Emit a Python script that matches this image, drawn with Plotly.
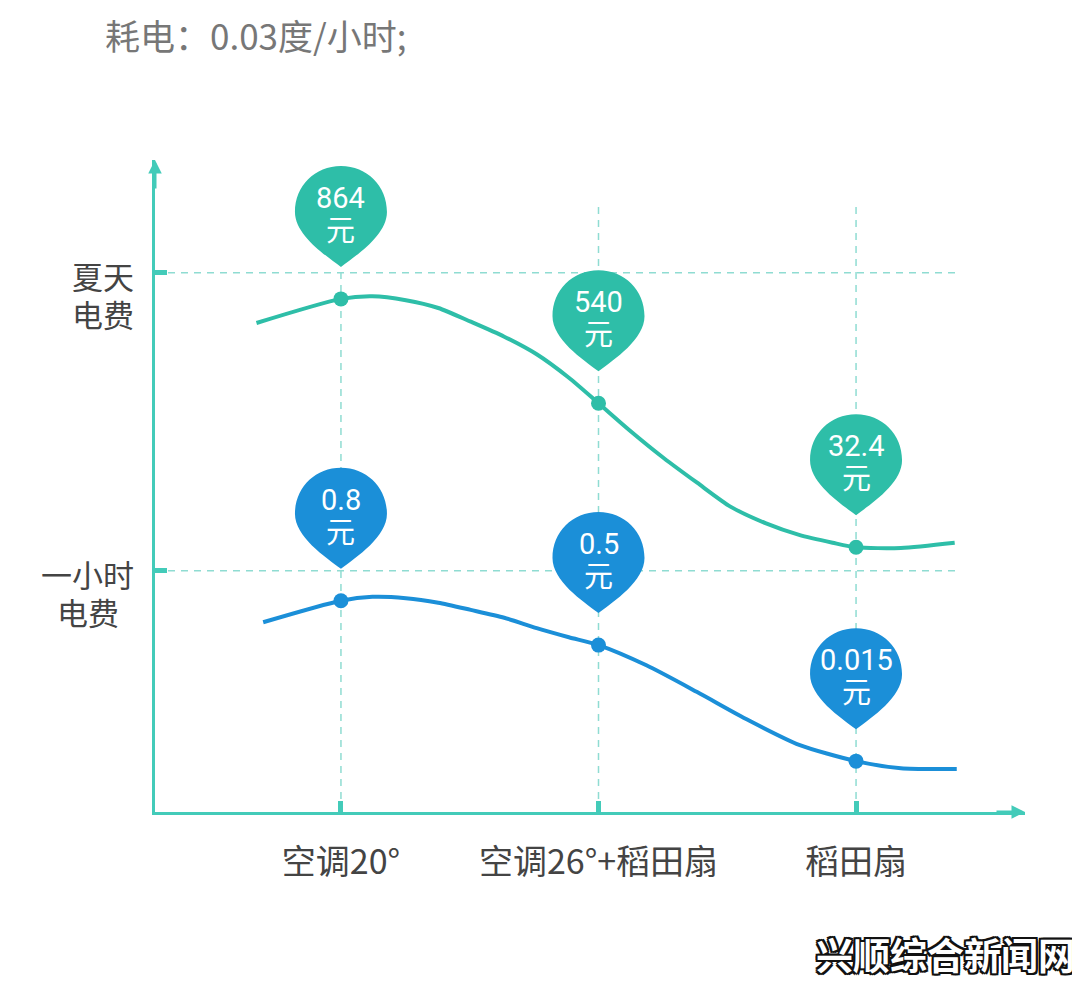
import plotly.graph_objects as go

# ---------------- data ----------------
categories = ["空调20°", "空调26°+稻田扇", "稻田扇"]
summer_cost = [864, 540, 32.4]          # 夏天电费 (元)
hourly_cost = [0.8, 0.5, 0.015]         # 一小时电费 (元)
unit = "元"

# vertical level of each point on the chart (0-100 scale of the drawing)
summer_level = [78.7, 62.7, 40.6]
hourly_level = [32.4, 25.6, 7.8]

# smooth curve samples (x in category units, y in drawing level)
green_curve_x = [-0.328, 0.0, 0.122, 0.252, 0.378, 0.504, 0.634, 0.760, 0.885,
                 1.0, 1.119, 1.253, 1.383, 1.514, 1.648, 1.779, 1.909, 2.0, 2.174, 2.383]
green_curve_y = [75.0, 78.7, 79.1, 78.5, 77.3, 75.2, 72.9, 70.2, 66.6,
                 62.7, 58.6, 54.3, 50.5, 46.8, 44.3, 42.5, 41.3, 40.6, 40.5, 41.3]

blue_curve_x = [-0.302, 0.0, 0.122, 0.252, 0.378, 0.504, 0.634, 0.760, 0.885,
                1.0, 1.186, 1.383, 1.581, 1.779, 2.0, 2.174, 2.391]
blue_curve_y = [29.1, 32.4, 33.0, 32.8, 32.1, 31.0, 29.8, 28.2, 26.8,
                25.6, 22.5, 18.4, 14.1, 10.3, 7.8, 6.7, 6.6]

ytick_vals = [37.0, 82.7]
ytick_lines = [["一小时", "电费"], ["夏天", "电费"]]

title_text = "耗电：0.03度/小时;"
watermark = "兴顺综合新闻网"

# ---------------- styles ----------------
GREEN = "#2ebea8"
BLUE = "#1b8fd8"
AXIS = "#43cbb9"
GRID = "#8fdcd2"
FONT = "Noto Sans CJK SC"
TIGHT_FONT = "Roboto, Noto Sans CJK SC"
W, H = 1072, 979   # page body has an 8px margin

fig = go.Figure()

fig.add_trace(go.Scatter(x=green_curve_x, y=green_curve_y, mode="lines",
                         line=dict(color=GREEN, width=4, shape="spline", smoothing=0.7),
                         hoverinfo="skip", showlegend=False))
fig.add_trace(go.Scatter(x=blue_curve_x, y=blue_curve_y, mode="lines",
                         line=dict(color=BLUE, width=4, shape="spline", smoothing=0.7),
                         hoverinfo="skip", showlegend=False))
xs = list(range(len(categories)))
fig.add_trace(go.Scatter(x=xs, y=summer_level, mode="markers",
                         marker=dict(color=GREEN, size=15), showlegend=False,
                         customdata=summer_cost, hovertemplate="%{customdata}元<extra></extra>"))
fig.add_trace(go.Scatter(x=xs, y=hourly_level, mode="markers",
                         marker=dict(color=BLUE, size=15), showlegend=False,
                         customdata=hourly_cost, hovertemplate="%{customdata}元<extra></extra>"))

shapes = []
# horizontal dashed guides
for yv in ytick_vals:
    shapes.append(dict(type="line", xref="paper", yref="y", x0=0, x1=0.92, y0=yv, y1=yv,
                       line=dict(color=GRID, width=1.5, dash="7px,6px"), layer="below"))
# vertical dashed guides
for xv in xs:
    shapes.append(dict(type="line", xref="x", yref="paper", x0=xv, x1=xv, y0=0, y1=0.931,
                       line=dict(color=GRID, width=1.5, dash="7px,6px"), layer="below"))

# teardrop pins (pixel-sized, anchored at each point)
T = 32
def pin_path():
    return (f"M 0,{T} C 16,{T+12} 46,{T+32} 46,{T+55} "
            f"C 46,{T+81} 26,{T+101} 0,{T+101} "
            f"C -26,{T+101} -46,{T+81} -46,{T+55} "
            f"C -46,{T+32} -16,{T+12} 0,{T} Z")

annotations = []
for levels, values, color in ((summer_level, summer_cost, GREEN), (hourly_level, hourly_cost, BLUE)):
    for xv, lv, val in zip(xs, levels, values):
        shapes.append(dict(type="path", xref="x", yref="y", xsizemode="pixel", ysizemode="pixel",
                           xanchor=xv, yanchor=lv, path=pin_path(),
                           fillcolor=color, line=dict(width=0), layer="above"))
        annotations.append(dict(x=xv, y=lv, xref="x", yref="y", text=f"{val:g}",
                                showarrow=False, yshift=T + 69, xanchor="center", yanchor="middle",
                                borderpad=0,
                                font=dict(family=TIGHT_FONT, size=29, color="white")))
        annotations.append(dict(x=xv, y=lv, xref="x", yref="y", text=unit,
                                showarrow=False, yshift=T + 36, xanchor="center", yanchor="middle",
                                borderpad=0,
                                font=dict(family=TIGHT_FONT, size=29, color="white")))

# y labels (two centred lines, right-aligned block)
for yv, lines in zip(ytick_vals, ytick_lines):
    widest = max(len(l) for l in lines)
    xc = (134 - 155) / 870 - (widest * 31 / 2) / 870
    for i, line in enumerate(lines):
        annotations.append(dict(x=xc, y=yv, xref="paper", yref="y", text=line, showarrow=False,
                                xanchor="center", yanchor="middle", yshift=-6 - 38 * i,
                                borderpad=0,
                                font=dict(family=TIGHT_FONT, size=31, color="#444444")))

# axis arrows
annotations.append(dict(x=0, y=1.0, xref="paper", yref="paper", ax=0, ay=30, axref="pixel",
                        ayref="pixel", text="", showarrow=True, arrowhead=2, arrowsize=0.9,
                        arrowwidth=3, arrowcolor=AXIS))
annotations.append(dict(x=1.0, y=0, xref="paper", yref="paper", ax=-30, ay=0, axref="pixel",
                        ayref="pixel", text="", showarrow=True, arrowhead=2, arrowsize=0.9,
                        arrowwidth=3, arrowcolor=AXIS))

# watermark
annotations.append(dict(x=(945 - 155) / 870, y=(812 - 954) / 652, xref="paper", yref="paper",
                        text=watermark, showarrow=False, xanchor="center", yanchor="middle",
                        font=dict(family=FONT, size=37, color="white", weight="bold",
                                  shadow="-2px -2px 0 #111, 2px -2px 0 #111, -2px 2px 0 #111, 2px 2px 0 #111, 0 2px 0 #111, 0 -2px 0 #111, 2px 0 0 #111, -2px 0 0 #111")))

fig.update_layout(
    width=W, height=H,
    margin=dict(l=147, r=55, t=152, b=175),
    paper_bgcolor="white", plot_bgcolor="white",
    showlegend=False,
    title=dict(text=title_text, x=97 / W, xanchor="left", y=1 - 30 / H, yanchor="middle",
               font=dict(family=FONT, size=35, color="#777777")),
    xaxis=dict(range=[-0.722, 2.656], tickvals=xs, ticktext=categories,
               showgrid=False, zeroline=False, showline=True, linecolor=AXIS, linewidth=3,
               ticks="inside", ticklen=11, tickwidth=5, tickcolor=AXIS,
               ticklabelstandoff=18,
               tickfont=dict(family=FONT, size=34, color="#444444"), fixedrange=True),
    yaxis=dict(range=[0, 100], tickvals=ytick_vals, showticklabels=False,
               showgrid=False, zeroline=False, showline=True, linecolor=AXIS, linewidth=3,
               ticks="inside", ticklen=12, tickwidth=5, tickcolor=AXIS, fixedrange=True),
    shapes=shapes,
    annotations=annotations,
    hovermode="closest",
)

fig.write_html("out.html")
